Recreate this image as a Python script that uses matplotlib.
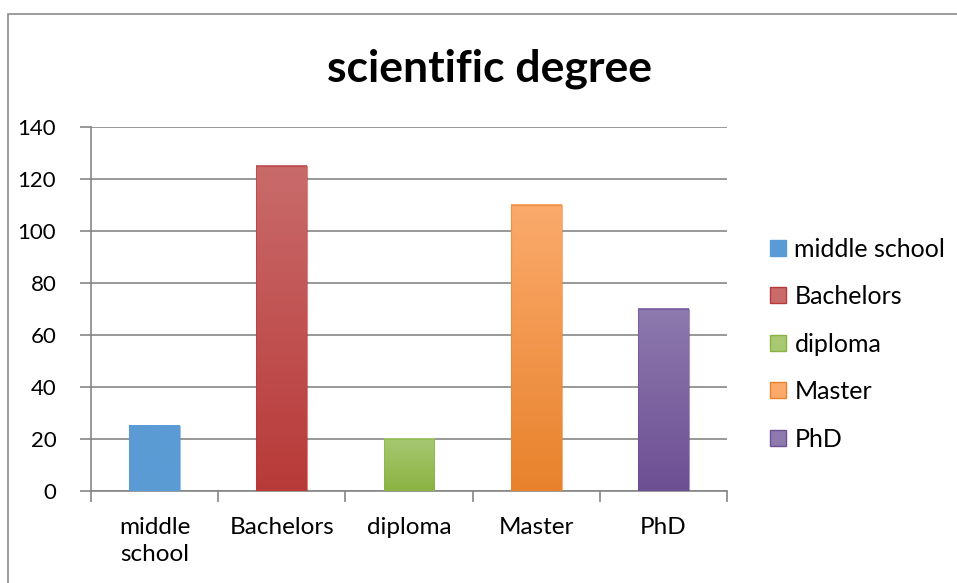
import numpy as np
import matplotlib
matplotlib.use("Agg")
import matplotlib.pyplot as plt
from matplotlib.colors import LinearSegmentedColormap
from matplotlib.lines import Line2D
from matplotlib.patches import Rectangle

categories = ["middle school", "Bachelors", "diploma", "Master", "PhD"]
tick_labels = ["middle\nschool", "Bachelors", "diploma", "Master", "PhD"]
values = [25, 125, 20, 110, 70]
# (top, bottom) colours of each bar's gradient
colors_top = ["#5B9BD5", "#C96B6B", "#A8C872", "#FBAA6C", "#8E7AAE"]
colors_bot = ["#5B9BD5", "#B83A38", "#8AB342", "#E8822C", "#6D4F94"]

plt.rcParams['font.family'] = ['Lato', 'DejaVu Sans']

fig = plt.figure(figsize=(9.57, 5.83), dpi=100)
ax = fig.add_axes([0.0951, 0.1578, 0.6646, 0.6244])

# outer chart border
fig.add_artist(Rectangle((8 / 957, -0.01), 1.0, 1 - 14 / 583 + 0.01,
                         transform=fig.transFigure, fill=False,
                         edgecolor="#8c8c8c", linewidth=1.2))

x = np.arange(len(categories))
w = 0.4
grad = np.linspace(0, 1, 256).reshape(-1, 1)
for i, v in enumerate(values):
    cmap = LinearSegmentedColormap.from_list("g", [colors_bot[i], colors_top[i]])
    ax.imshow(grad, cmap=cmap, origin="lower", aspect="auto",
              extent=[x[i] - w / 2, x[i] + w / 2, 0, v], zorder=3)
    ax.add_patch(Rectangle((x[i] - w / 2, 0), w, v, fill=False,
                           edgecolor=colors_bot[i], linewidth=0.8, alpha=0.6, zorder=4))

ax.set_xlim(-0.5, len(categories) - 0.5)
ax.set_ylim(0, 140)
ax.set_yticks(range(0, 141, 20))
ax.yaxis.grid(True, color="#868686", linewidth=1.2)
ax.set_axisbelow(True)

ax.set_xticks(x)
ax.set_xticklabels(tick_labels, linespacing=1.35)
ax.set_xticks(np.arange(-0.5, len(categories), 1), minor=True)
ax.tick_params(axis="x", which="major", length=0, pad=19, labelsize=17.5)
ax.tick_params(axis="x", which="minor", length=8, width=1.2, color="#868686", direction="out")
ax.tick_params(axis="y", length=8, width=1.2, color="#868686", pad=17, labelsize=16)

for s in ["top", "right"]:
    ax.spines[s].set_visible(False)
for s in ["left", "bottom"]:
    ax.spines[s].set_color("#868686")
    ax.spines[s].set_linewidth(1.2)

fig.text(0.512, 0.882, "scientific degree", ha="center", va="center",
         fontsize=32, fontweight="bold")

handles = [Line2D([], [], marker="s", linestyle="none", markersize=11,
                  markerfacecolor=colors_top[i], markeredgecolor=colors_bot[i])
           for i in range(len(categories))]
fig.legend(handles, categories, loc="upper left", bbox_to_anchor=(0.791, 0.614),
           frameon=False, fontsize=18, handlelength=0.7, handletextpad=0.3,
           labelspacing=0.98, borderpad=0)

fig.savefig("out.png", dpi=100)
